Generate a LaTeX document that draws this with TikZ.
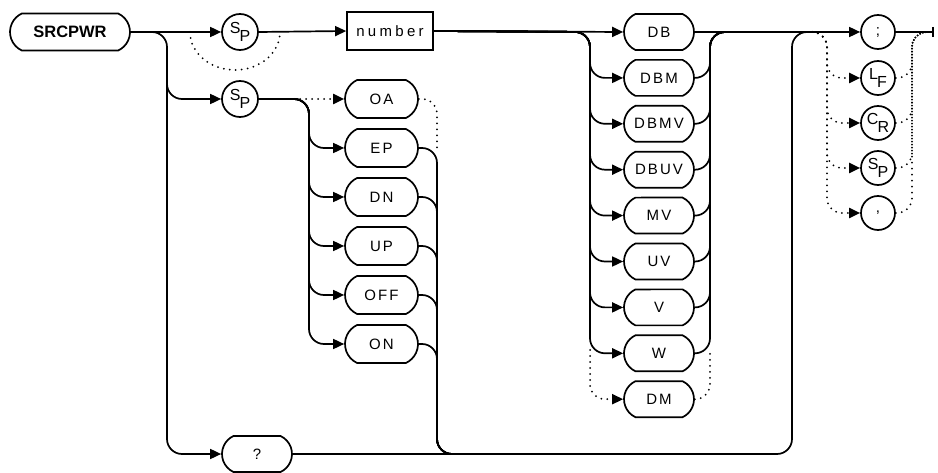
\documentclass[tikz,border=0pt]{standalone}
\usepackage{fontspec}
\setmainfont{Liberation Sans}
\usetikzlibrary{arrows.meta,shapes.misc}
\newcommand\subsup[2]{{\fontsize{16}{17}\selectfont\raisebox{3.5pt}{#1}\kern-1pt\raisebox{-4.5pt}{#2}}}
\begin{document}
\begin{tikzpicture}[x=1pt,y=-1pt,
  line width=1.7pt,
  lbl/.style={font=\fontsize{15}{16}\selectfont\addfontfeature{LetterSpace=14}},
  kw/.style={draw, rounded rectangle, rounded rectangle arc length=130,
    minimum width=70pt, minimum height=36pt, inner sep=0pt, lbl},
  term/.style={draw, circle, minimum size=34pt, inner sep=0pt, lbl},
  rc/.style={rounded corners=15pt},
  arr/.style={-{Triangle[length=11pt,width=10pt]}},
  dots/.style={line width=2pt, line cap=round, dash pattern=on 0pt off 6pt},
]
\useasboundingbox (0,0) rectangle (938,473);

% nodes
\node[kw, minimum width=120pt, minimum height=37pt,
      font=\fontsize{16.5}{18}\selectfont\bfseries] (srcpwr) at (70,32) {SRCPWR};
\node[term, minimum size=36pt] (sp1) at (240,32) {\subsup{S}{P}};
\node[term, minimum size=36pt] (sp2) at (240,99) {\subsup{S}{P}};
\node[draw, minimum width=86pt, minimum height=38pt, inner sep=0pt,
      font=\fontsize{15}{16}\selectfont\addfontfeature{LetterSpace=22}] (num) at (390,31) {number};

\foreach \n/\t [count=\i from 0] in {db/DB,dbm/DBM,dbmv/DBMV,dbuv/DBUV,mv/MV,uv/UV,v/V,w/W,dm/DM}
  \node[kw] (\n) at (659,32+45.9*\i) {\t};

\foreach \n/\t [count=\i from 0] in {oa/OA,ep/EP,dn/DN,up/UP,off/OFF,on/ON}
  \node[kw, minimum width=73pt, minimum height=38pt] (\n) at (381.5,99+49*\i) {\t};

\node[kw] (q) at (257,454) {?};

\node[term] (semi) at (878,32) {;};
\node[term] (lf) at (878,78) {\subsup{L}{F}};
\node[term] (cr) at (878,123) {\subsup{C}{R}};
\node[term] (sp3) at (878,168) {\subsup{S}{P}};
\node[term] (comma) at (878,213) {,};

% junction coordinates
\coordinate (jA) at (167,32);
\coordinate (jA2) at (167,55);
\coordinate (jB) at (167,454);
\coordinate (bp1) at (190,32);
\coordinate (ol) at (309,99);
\coordinate (ol0) at (294,99);
\coordinate (or) at (437,454);
\coordinate (or2) at (470,454);
\coordinate (ort) at (437,150);
\coordinate (ul) at (590,32);
\coordinate (ulw) at (590,350);
\coordinate (ur) at (710,32);
\coordinate (urr) at (740,32);
\coordinate (urw) at (710,350);
\coordinate (bq) at (792,454);
\coordinate (bt) at (792,32);
\coordinate (bt2) at (815,32);
\coordinate (tl0) at (812,32);
\coordinate (tl) at (827,32);
\coordinate (tr) at (912,32);
\coordinate (tr0) at (926,32);
\coordinate (tend) at (934,32);

% left part
\draw[arr] (srcpwr.east) -- (sp1.west);
\draw[rc,arr] (srcpwr.east) -- (jA) -- (jB) -- (q.west);
\draw[rc,arr] (jA2) |- (sp2.west);
\draw[dots] (bp1) arc[start angle=180, end angle=0, x radius=45, y radius=38];
\draw[arr] (sp1.east) -- (num.west);

% OA column
\foreach \n in {ep,dn,up,off,on}
  \draw[rc,arr] (sp2.east) -- (ol) |- (\n.west);
\draw[dots,arr] (ol0) -- (oa.west);
\foreach \n in {ep,dn,up,off,on}
  \draw[rc] (\n.east) -| (or) -- (or2);
\draw[dots,rc] (oa.east) -| (ort);

% units column
\draw[arr] (num.east) -- (db.west);
\foreach \n in {dbm,dbmv,dbuv,mv,uv,v,w}
  \draw[rc,arr] (num.east) -- (ul) |- (\n.west);
\draw[dots,rc,arr] (ulw) |- (dm.west);
\foreach \n in {dbm,dbmv,dbuv,mv,uv,v,w}
  \draw[rc] (\n.east) -| (ur) -- (urr);
\draw[dots,rc] (dm.east) -| (urw);

% bottom return
\draw[rc] (q.east) -- (bq) -- (bt) -- (bt2);

% terminators
\draw[arr] (db.east) -- (semi.west);
\foreach \n in {lf,cr,sp3,comma}
  \draw[dots,rc,arr] (tl0) -- (tl) |- (\n.west);
\foreach \n in {lf,cr,sp3,comma}
  \draw[dots,rc] (\n.east) -| (tr) -- (tr0);
\draw[-{Bar[width=10pt,line width=1.7pt]}] (semi.east) -- (tend);
\end{tikzpicture}
\end{document}
